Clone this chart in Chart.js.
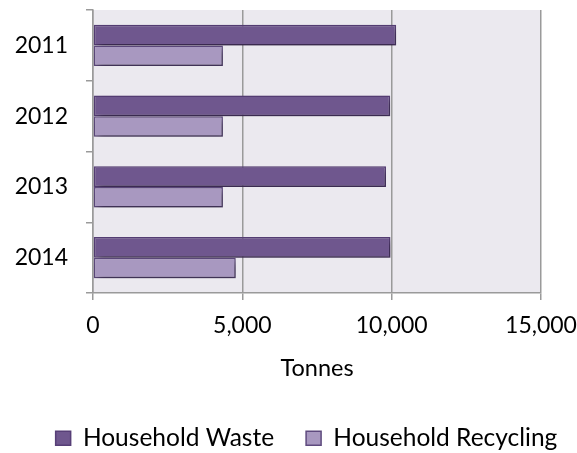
<!DOCTYPE html>
<html>
<head>
<meta charset="utf-8">
<script src="https://cdn.jsdelivr.net/npm/chart.js@4"></script>
<style>
  html, body { margin: 0; padding: 0; background: #fff; }
  #wrap { width: 577px; height: 453px; }
</style>
</head>
<body>
<div id="wrap"><canvas id="chart"></canvas></div>
<script>
// values (tonnes)
const years = ['2011', '2012', '2013', '2014'];
const householdWaste = [10150, 9950, 9810, 9960];
const householdRecycling = [4350, 4350, 4350, 4780];
const xTicks = [0, 5000, 10000, 15000];

const FONT = 'Lato, "Open Sans", sans-serif';

// plot area fill
const plotBg = {
  id: 'plotBg',
  beforeDraw(chart) {
    const { ctx, chartArea: a } = chart;
    ctx.save();
    ctx.fillStyle = '#ebe9ef';
    ctx.fillRect(a.left, a.top, a.right - a.left, a.bottom - a.top);
    ctx.restore();
  }
};

// soft drop shadow under the bars
const barShadow = {
  id: 'barShadow',
  beforeDatasetsDraw(chart) {
    const ctx = chart.ctx;
    ctx.save();
    ctx.shadowColor = 'rgba(0,0,0,0.4)';
    ctx.shadowBlur = 7;
    ctx.shadowOffsetX = 3;
    ctx.shadowOffsetY = 4;
  },
  afterDatasetsDraw(chart) {
    chart.ctx.restore();
  }
};

// the legend sits a bit right of centre in the original
const legendShift = {
  id: 'legendShift',
  afterLayout(chart) {
    if (!chart.legend) return;
    chart.legend.left += 18;
    chart.legend.right += 18;
  }
};

new Chart(document.getElementById('chart'), {
  type: 'bar',
  data: {
    labels: years,
    datasets: [
      {
        label: 'Household Waste',
        data: householdWaste,
        backgroundColor: '#6f578e',
        borderColor: '#573f77',
        borderWidth: 1.5,
        borderSkipped: false
      },
      {
        label: 'Household Recycling',
        data: householdRecycling,
        backgroundColor: '#a898c0',
        borderColor: '#5e4a7e',
        borderWidth: 1.5,
        borderSkipped: false
      }
    ]
  },
  options: {
    indexAxis: 'y',
    responsive: true,
    maintainAspectRatio: false,
    animation: false,
    datasets: { bar: { categoryPercentage: 0.58, barPercentage: 1 } },
    layout: { padding: { left: 0, right: 0, top: 10, bottom: 0 } },
    plugins: {
      tooltip: { enabled: false },
      legend: {
        position: 'bottom',
        maxHeight: 59,
        labels: {
          color: '#000',
          font: { family: FONT, size: 24.5 },
          boxWidth: 15,
          boxHeight: 14,
          padding: 32
        }
      }
    },
    scales: {
      x: {
        min: 0,
        max: 15000,
        afterBuildTicks(scale) { scale.ticks = xTicks.map(v => ({ value: v })); },
        grid: { color: '#9a9a9a', lineWidth: 1.5, tickLength: 7, drawTicks: true },
        border: { color: '#9a9a9a', width: 1.5 },
        ticks: {
          color: '#000',
          font: { family: FONT, size: 23 },
          padding: 12,
          maxRotation: 0,
          callback: v => v.toLocaleString('en-US')
        },
        title: {
          display: true,
          text: 'Tonnes',
          color: '#000',
          font: { family: FONT, size: 23.5 },
          padding: { top: 8, bottom: 11 }
        },
        afterFit(scale) {
          scale.height = 101;
          scale.paddingLeft = 0;
          scale.paddingRight = 36;
        }
      },
      y: {
        grid: { offset: true, drawOnChartArea: false, color: '#9a9a9a', lineWidth: 1.5, tickLength: 7 },
        border: { color: '#9a9a9a', width: 1.5 },
        ticks: { color: '#000', font: { family: FONT, size: 23 }, padding: 18 },
        afterFit(scale) {
          scale.width = 93;
          scale.paddingTop = 0;
          scale.paddingBottom = 0;
        }
      }
    }
  },
  plugins: [plotBg, barShadow, legendShift]
});
</script>
</body>
</html>
